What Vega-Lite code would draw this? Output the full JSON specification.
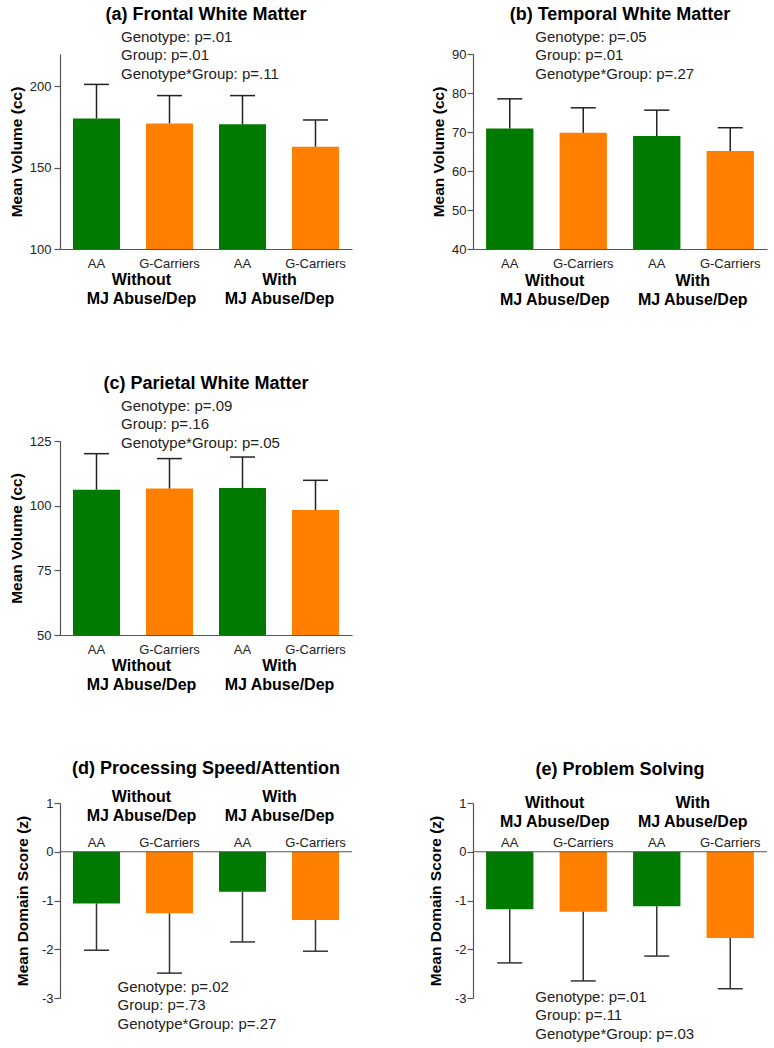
{
  "$schema": "https://vega.github.io/schema/vega-lite/v6.json",
  "padding": {"left": 9, "top": 5, "right": 0, "bottom": 0},
  "config": {
    "view": {"stroke": null},
    "font": "Liberation Sans",
    "title": {"fontSize": 18, "fontWeight": "bold", "color": "#000", "frame": "group", "anchor": "middle", "font": "Liberation Sans"},
    "axis": {"labelFont": "Liberation Sans", "titleFont": "Liberation Sans", "labelFontSize": 13, "labelColor": "#222", "titleFontSize": 15.5, "titleFontWeight": "bold", "titleColor": "#000", "domainColor": "#555", "tickColor": "#555", "grid": false, "domainWidth": 1.2, "tickWidth": 1.2},
    "axisY": {"tickSize": 6, "labelPadding": 3, "labelOverlap": false, "tickCount": 10},
    "axisX": {"ticks": false, "labelPadding": 8, "labelAngle": 0},
    "text": {"font": "Liberation Sans"}
  },
  "datasets": {
    "bars": [
      {"panel": "a", "cond": "Without AA", "geno": "AA", "mean": 180.3, "errEnd": 201.3},
      {"panel": "a", "cond": "Without G-Carriers", "geno": "G-Carriers", "mean": 177.3, "errEnd": 194.4},
      {"panel": "a", "cond": "With AA", "geno": "AA", "mean": 176.7, "errEnd": 194.4},
      {"panel": "a", "cond": "With G-Carriers", "geno": "G-Carriers", "mean": 163.0, "errEnd": 179.4},
      {"panel": "b", "cond": "Without AA", "geno": "AA", "mean": 70.9, "errEnd": 78.5},
      {"panel": "b", "cond": "Without G-Carriers", "geno": "G-Carriers", "mean": 69.8, "errEnd": 76.2},
      {"panel": "b", "cond": "With AA", "geno": "AA", "mean": 69.0, "errEnd": 75.6},
      {"panel": "b", "cond": "With G-Carriers", "geno": "G-Carriers", "mean": 65.1, "errEnd": 71.1},
      {"panel": "c", "cond": "Without AA", "geno": "AA", "mean": 106.2, "errEnd": 120.1},
      {"panel": "c", "cond": "Without G-Carriers", "geno": "G-Carriers", "mean": 106.6, "errEnd": 118.2},
      {"panel": "c", "cond": "With AA", "geno": "AA", "mean": 106.8, "errEnd": 118.8},
      {"panel": "c", "cond": "With G-Carriers", "geno": "G-Carriers", "mean": 98.3, "errEnd": 109.8},
      {"panel": "d", "cond": "Without AA", "geno": "AA", "mean": -1.06, "errEnd": -2.02},
      {"panel": "d", "cond": "Without G-Carriers", "geno": "G-Carriers", "mean": -1.26, "errEnd": -2.49},
      {"panel": "d", "cond": "With AA", "geno": "AA", "mean": -0.82, "errEnd": -1.85},
      {"panel": "d", "cond": "With G-Carriers", "geno": "G-Carriers", "mean": -1.40, "errEnd": -2.04},
      {"panel": "e", "cond": "Without AA", "geno": "AA", "mean": -1.18, "errEnd": -2.28},
      {"panel": "e", "cond": "Without G-Carriers", "geno": "G-Carriers", "mean": -1.23, "errEnd": -2.65},
      {"panel": "e", "cond": "With AA", "geno": "AA", "mean": -1.12, "errEnd": -2.14},
      {"panel": "e", "cond": "With G-Carriers", "geno": "G-Carriers", "mean": -1.77, "errEnd": -2.81}
    ],
    "notes": [
      {"panel": "a", "txt": "Genotype: p=.01\nGroup: p=.01\nGenotype*Group: p=.11"},
      {"panel": "b", "txt": "Genotype: p=.05\nGroup: p=.01\nGenotype*Group: p=.27"},
      {"panel": "c", "txt": "Genotype: p=.09\nGroup: p=.16\nGenotype*Group: p=.05"},
      {"panel": "d", "txt": "Genotype: p=.02\nGroup: p=.73\nGenotype*Group: p=.27"},
      {"panel": "e", "txt": "Genotype: p=.01\nGroup: p=.11\nGenotype*Group: p=.03"}
    ],
    "groups": [
      {"panel": "a", "grp": "Without", "label": "Without\nMJ Abuse/Dep"},
      {"panel": "a", "grp": "With", "label": "With\nMJ Abuse/Dep"},
      {"panel": "b", "grp": "Without", "label": "Without\nMJ Abuse/Dep"},
      {"panel": "b", "grp": "With", "label": "With\nMJ Abuse/Dep"},
      {"panel": "c", "grp": "Without", "label": "Without\nMJ Abuse/Dep"},
      {"panel": "c", "grp": "With", "label": "With\nMJ Abuse/Dep"},
      {"panel": "d", "grp": "Without", "label": "Without\nMJ Abuse/Dep"},
      {"panel": "d", "grp": "With", "label": "With\nMJ Abuse/Dep"},
      {"panel": "e", "grp": "Without", "label": "Without\nMJ Abuse/Dep"},
      {"panel": "e", "grp": "With", "label": "With\nMJ Abuse/Dep"}
    ],
    "zero": [{"zero": 0}]
  },
  "spacing": 66,
  "vconcat": [
    {
      "bounds": "flush",
      "spacing": 121,
      "hconcat": [
        {
          "width": 292, "height": 195,
          "title": {"text": "(a) Frontal White Matter", "offset": 6},
          "layer": [
            {"data": {"name": "bars"}, "transform": [{"filter": "datum.panel === 'a'"}],
             "mark": {"type": "bar"},
             "encoding": {
               "x": {"field": "cond", "type": "nominal", "scale": {"domain": ["Without AA", "Without G-Carriers", "With AA", "With G-Carriers"], "paddingInner": 0.356, "paddingOuter": 0.178}, "axis": {"title": null, "labelExpr": "split(datum.value, ' ')[1]"}},
               "y": {"field": "mean", "type": "quantitative", "scale": {"domain": [100, 220], "nice": false}, "axis": {"values": [100, 150, 200], "title": "Mean Volume (cc)", "titlePadding": 5.3}},
               "y2": {"datum": 100},
               "color": {"field": "geno", "type": "nominal", "scale": {"domain": ["AA", "G-Carriers"], "range": ["#007A00", "#FF8000"]}, "legend": null}}},
            {"data": {"name": "bars"}, "transform": [{"filter": "datum.panel === 'a'"}],
             "mark": {"type": "rule", "color": "#222", "strokeWidth": 1.5},
             "encoding": {"x": {"field": "cond", "type": "nominal"}, "y": {"field": "mean", "type": "quantitative"}, "y2": {"field": "errEnd"}}},
            {"data": {"name": "bars"}, "transform": [{"filter": "datum.panel === 'a'"}],
             "mark": {"type": "tick", "orient": "horizontal", "size": 25, "thickness": 1.5, "color": "#222", "opacity": 1},
             "encoding": {"x": {"field": "cond", "type": "nominal"}, "y": {"field": "errEnd", "type": "quantitative"}}},
            {"data": {"name": "notes"}, "transform": [{"filter": "datum.panel === 'a'"}],
             "mark": {"type": "text", "align": "left", "baseline": "middle", "lineBreak": "\n", "lineHeight": 18.5, "fontSize": 15, "color": "#222", "dx": 24.5, "dy": -17.5},
             "encoding": {"x": {"datum": "Without AA", "type": "nominal"}, "y": {"datum": 220, "type": "quantitative"}, "text": {"field": "txt"}}},
            {"data": {"name": "groups"}, "transform": [{"filter": "datum.panel === 'a' && datum.grp === 'Without'"}],
             "mark": {"type": "text", "align": "center", "baseline": "middle", "lineBreak": "\n", "lineHeight": 19, "fontSize": 16, "fontWeight": "bold", "color": "#000", "dx": 45, "dy": 31},
             "encoding": {"x": {"datum": "Without AA", "type": "nominal"}, "y": {"datum": 100, "type": "quantitative"}, "text": {"field": "label"}}},
            {"data": {"name": "groups"}, "transform": [{"filter": "datum.panel === 'a' && datum.grp === 'With'"}],
             "mark": {"type": "text", "align": "center", "baseline": "middle", "lineBreak": "\n", "lineHeight": 19, "fontSize": 16, "fontWeight": "bold", "color": "#000", "dx": 37, "dy": 31},
             "encoding": {"x": {"datum": "With AA", "type": "nominal"}, "y": {"datum": 100, "type": "quantitative"}, "text": {"field": "label"}}}
          ]
        },
        {
          "width": 294, "height": 195,
          "title": {"text": "(b) Temporal White Matter", "offset": 6},
          "layer": [
            {"data": {"name": "bars"}, "transform": [{"filter": "datum.panel === 'b'"}],
             "mark": {"type": "bar"},
             "encoding": {
               "x": {"field": "cond", "type": "nominal", "scale": {"domain": ["Without AA", "Without G-Carriers", "With AA", "With G-Carriers"], "paddingInner": 0.356, "paddingOuter": 0.178}, "axis": {"title": null, "labelExpr": "split(datum.value, ' ')[1]"}},
               "y": {"field": "mean", "type": "quantitative", "scale": {"domain": [40, 90], "nice": false}, "axis": {"values": [40, 50, 60, 70, 80, 90], "tickCount": 10, "title": "Mean Volume (cc)", "titlePadding": 5.5, "labelPadding": 1, "labelOverlap": false}},
               "y2": {"datum": 40},
               "color": {"field": "geno", "type": "nominal", "scale": {"domain": ["AA", "G-Carriers"], "range": ["#007A00", "#FF8000"]}, "legend": null}}},
            {"data": {"name": "bars"}, "transform": [{"filter": "datum.panel === 'b'"}],
             "mark": {"type": "rule", "color": "#222", "strokeWidth": 1.5},
             "encoding": {"x": {"field": "cond", "type": "nominal"}, "y": {"field": "mean", "type": "quantitative"}, "y2": {"field": "errEnd"}}},
            {"data": {"name": "bars"}, "transform": [{"filter": "datum.panel === 'b'"}],
             "mark": {"type": "tick", "orient": "horizontal", "size": 25, "thickness": 1.5, "color": "#222", "opacity": 1},
             "encoding": {"x": {"field": "cond", "type": "nominal"}, "y": {"field": "errEnd", "type": "quantitative"}}},
            {"data": {"name": "notes"}, "transform": [{"filter": "datum.panel === 'b'"}],
             "mark": {"type": "text", "align": "left", "baseline": "middle", "lineBreak": "\n", "lineHeight": 18.5, "fontSize": 15, "color": "#222", "dx": 25.6, "dy": -17.5},
             "encoding": {"x": {"datum": "Without AA", "type": "nominal"}, "y": {"datum": 90, "type": "quantitative"}, "text": {"field": "txt"}}},
            {"data": {"name": "groups"}, "transform": [{"filter": "datum.panel === 'b' && datum.grp === 'Without'"}],
             "mark": {"type": "text", "align": "center", "baseline": "middle", "lineBreak": "\n", "lineHeight": 19, "fontSize": 16, "fontWeight": "bold", "color": "#000", "dx": 45, "dy": 32},
             "encoding": {"x": {"datum": "Without AA", "type": "nominal"}, "y": {"datum": 40, "type": "quantitative"}, "text": {"field": "label"}}},
            {"data": {"name": "groups"}, "transform": [{"filter": "datum.panel === 'b' && datum.grp === 'With'"}],
             "mark": {"type": "text", "align": "center", "baseline": "middle", "lineBreak": "\n", "lineHeight": 19, "fontSize": 16, "fontWeight": "bold", "color": "#000", "dx": 36, "dy": 32},
             "encoding": {"x": {"datum": "With AA", "type": "nominal"}, "y": {"datum": 40, "type": "quantitative"}, "text": {"field": "label"}}}
          ]
        }
      ]
    },
    {
      "width": 292, "height": 194,
      "title": {"text": "(c) Parietal White Matter", "offset": 6},
      "layer": [
        {"data": {"name": "bars"}, "transform": [{"filter": "datum.panel === 'c'"}],
         "mark": {"type": "bar"},
         "encoding": {
           "x": {"field": "cond", "type": "nominal", "scale": {"domain": ["Without AA", "Without G-Carriers", "With AA", "With G-Carriers"], "paddingInner": 0.356, "paddingOuter": 0.178}, "axis": {"title": null, "labelExpr": "split(datum.value, ' ')[1]"}},
           "y": {"field": "mean", "type": "quantitative", "scale": {"domain": [50, 125], "nice": false}, "axis": {"values": [50, 75, 100, 125], "title": "Mean Volume (cc)", "titlePadding": 5.3}},
           "y2": {"datum": 50},
           "color": {"field": "geno", "type": "nominal", "scale": {"domain": ["AA", "G-Carriers"], "range": ["#007A00", "#FF8000"]}, "legend": null}}},
        {"data": {"name": "bars"}, "transform": [{"filter": "datum.panel === 'c'"}],
         "mark": {"type": "rule", "color": "#222", "strokeWidth": 1.5},
         "encoding": {"x": {"field": "cond", "type": "nominal"}, "y": {"field": "mean", "type": "quantitative"}, "y2": {"field": "errEnd"}}},
        {"data": {"name": "bars"}, "transform": [{"filter": "datum.panel === 'c'"}],
         "mark": {"type": "tick", "orient": "horizontal", "size": 25, "thickness": 1.5, "color": "#222", "opacity": 1},
         "encoding": {"x": {"field": "cond", "type": "nominal"}, "y": {"field": "errEnd", "type": "quantitative"}}},
        {"data": {"name": "notes"}, "transform": [{"filter": "datum.panel === 'c'"}],
         "mark": {"type": "text", "align": "left", "baseline": "middle", "lineBreak": "\n", "lineHeight": 18.5, "fontSize": 15, "color": "#222", "dx": 24.5, "dy": -35.5},
         "encoding": {"x": {"datum": "Without AA", "type": "nominal"}, "y": {"datum": 125, "type": "quantitative"}, "text": {"field": "txt"}}},
        {"data": {"name": "groups"}, "transform": [{"filter": "datum.panel === 'c' && datum.grp === 'Without'"}],
         "mark": {"type": "text", "align": "center", "baseline": "middle", "lineBreak": "\n", "lineHeight": 19, "fontSize": 16, "fontWeight": "bold", "color": "#000", "dx": 45, "dy": 31},
         "encoding": {"x": {"datum": "Without AA", "type": "nominal"}, "y": {"datum": 50, "type": "quantitative"}, "text": {"field": "label"}}},
        {"data": {"name": "groups"}, "transform": [{"filter": "datum.panel === 'c' && datum.grp === 'With'"}],
         "mark": {"type": "text", "align": "center", "baseline": "middle", "lineBreak": "\n", "lineHeight": 19, "fontSize": 16, "fontWeight": "bold", "color": "#000", "dx": 37, "dy": 31},
         "encoding": {"x": {"datum": "With AA", "type": "nominal"}, "y": {"datum": 50, "type": "quantitative"}, "text": {"field": "label"}}}
      ]
    },
    {
      "bounds": "flush",
      "spacing": 121,
      "hconcat": [
        {
          "width": 292, "height": 195,
          "title": {"text": "(d) Processing Speed/Attention", "offset": 11},
          "layer": [
            {"data": {"name": "bars"}, "transform": [{"filter": "datum.panel === 'd'"}],
             "mark": {"type": "bar"},
             "encoding": {
               "x": {"field": "cond", "type": "nominal", "scale": {"domain": ["Without AA", "Without G-Carriers", "With AA", "With G-Carriers"], "paddingInner": 0.356, "paddingOuter": 0.178}, "axis": null},
               "y": {"field": "mean", "type": "quantitative", "scale": {"domain": [-3, 1], "nice": false}, "axis": {"values": [-3, -2, -1, 0, 1], "labelExpr": "datum.value + ''", "title": "Mean Domain Score (z)", "titlePadding": 11, "labelPadding": 1}},
               "y2": {"datum": 0},
               "color": {"field": "geno", "type": "nominal", "scale": {"domain": ["AA", "G-Carriers"], "range": ["#007A00", "#FF8000"]}, "legend": null}}},
            {"data": {"name": "zero"},
             "mark": {"type": "rule", "color": "#555", "strokeWidth": 1.2},
             "encoding": {"y": {"field": "zero", "type": "quantitative"}}},
            {"data": {"name": "bars"}, "transform": [{"filter": "datum.panel === 'd'"}],
             "mark": {"type": "rule", "color": "#333", "strokeWidth": 1.5},
             "encoding": {"x": {"field": "cond", "type": "nominal"}, "y": {"field": "mean", "type": "quantitative"}, "y2": {"field": "errEnd"}}},
            {"data": {"name": "bars"}, "transform": [{"filter": "datum.panel === 'd'"}],
             "mark": {"type": "tick", "orient": "horizontal", "size": 25, "thickness": 1.5, "color": "#333", "opacity": 1},
             "encoding": {"x": {"field": "cond", "type": "nominal"}, "y": {"field": "errEnd", "type": "quantitative"}}},
            {"data": {"name": "bars"}, "transform": [{"filter": "datum.panel === 'd'"}],
             "mark": {"type": "text", "align": "center", "baseline": "alphabetic", "fontSize": 13, "color": "#222", "dy": -5},
             "encoding": {"x": {"field": "cond", "type": "nominal"}, "y": {"datum": 0, "type": "quantitative"}, "text": {"field": "geno"}}},
            {"data": {"name": "notes"}, "transform": [{"filter": "datum.panel === 'd'"}],
             "mark": {"type": "text", "align": "left", "baseline": "middle", "lineBreak": "\n", "lineHeight": 18.5, "fontSize": 15, "color": "#222", "dx": 21, "dy": -11.5},
             "encoding": {"x": {"datum": "Without AA", "type": "nominal"}, "y": {"datum": -3, "type": "quantitative"}, "text": {"field": "txt"}}},
            {"data": {"name": "groups"}, "transform": [{"filter": "datum.panel === 'd' && datum.grp === 'Without'"}],
             "mark": {"type": "text", "align": "center", "baseline": "middle", "lineBreak": "\n", "lineHeight": 19, "fontSize": 16, "fontWeight": "bold", "color": "#000", "dx": 45, "dy": -55.2},
             "encoding": {"x": {"datum": "Without AA", "type": "nominal"}, "y": {"datum": 0, "type": "quantitative"}, "text": {"field": "label"}}},
            {"data": {"name": "groups"}, "transform": [{"filter": "datum.panel === 'd' && datum.grp === 'With'"}],
             "mark": {"type": "text", "align": "center", "baseline": "middle", "lineBreak": "\n", "lineHeight": 19, "fontSize": 16, "fontWeight": "bold", "color": "#000", "dx": 37, "dy": -55.2},
             "encoding": {"x": {"datum": "With AA", "type": "nominal"}, "y": {"datum": 0, "type": "quantitative"}, "text": {"field": "label"}}}
          ]
        },
        {
          "width": 294, "height": 195,
          "title": {"text": "(e) Problem Solving", "offset": 16},
          "layer": [
            {"data": {"name": "bars"}, "transform": [{"filter": "datum.panel === 'e'"}],
             "mark": {"type": "bar"},
             "encoding": {
               "x": {"field": "cond", "type": "nominal", "scale": {"domain": ["Without AA", "Without G-Carriers", "With AA", "With G-Carriers"], "paddingInner": 0.356, "paddingOuter": 0.178}, "axis": null},
               "y": {"field": "mean", "type": "quantitative", "scale": {"domain": [-3, 1], "nice": false}, "axis": {"values": [-3, -2, -1, 0, 1], "labelExpr": "datum.value + ''", "title": "Mean Domain Score (z)", "titlePadding": 11, "labelPadding": 1}},
               "y2": {"datum": 0},
               "color": {"field": "geno", "type": "nominal", "scale": {"domain": ["AA", "G-Carriers"], "range": ["#007A00", "#FF8000"]}, "legend": null}}},
            {"data": {"name": "zero"},
             "mark": {"type": "rule", "color": "#555", "strokeWidth": 1.2},
             "encoding": {"y": {"field": "zero", "type": "quantitative"}}},
            {"data": {"name": "bars"}, "transform": [{"filter": "datum.panel === 'e'"}],
             "mark": {"type": "rule", "color": "#333", "strokeWidth": 1.5},
             "encoding": {"x": {"field": "cond", "type": "nominal"}, "y": {"field": "mean", "type": "quantitative"}, "y2": {"field": "errEnd"}}},
            {"data": {"name": "bars"}, "transform": [{"filter": "datum.panel === 'e'"}],
             "mark": {"type": "tick", "orient": "horizontal", "size": 25, "thickness": 1.5, "color": "#333", "opacity": 1},
             "encoding": {"x": {"field": "cond", "type": "nominal"}, "y": {"field": "errEnd", "type": "quantitative"}}},
            {"data": {"name": "bars"}, "transform": [{"filter": "datum.panel === 'e'"}],
             "mark": {"type": "text", "align": "center", "baseline": "alphabetic", "fontSize": 13, "color": "#222", "dy": -5},
             "encoding": {"x": {"field": "cond", "type": "nominal"}, "y": {"datum": 0, "type": "quantitative"}, "text": {"field": "geno"}}},
            {"data": {"name": "notes"}, "transform": [{"filter": "datum.panel === 'e'"}],
             "mark": {"type": "text", "align": "left", "baseline": "middle", "lineBreak": "\n", "lineHeight": 18.5, "fontSize": 15, "color": "#222", "dx": 25.6, "dy": -1.5},
             "encoding": {"x": {"datum": "Without AA", "type": "nominal"}, "y": {"datum": -3, "type": "quantitative"}, "text": {"field": "txt"}}},
            {"data": {"name": "groups"}, "transform": [{"filter": "datum.panel === 'e' && datum.grp === 'Without'"}],
             "mark": {"type": "text", "align": "center", "baseline": "middle", "lineBreak": "\n", "lineHeight": 19, "fontSize": 16, "fontWeight": "bold", "color": "#000", "dx": 45, "dy": -49},
             "encoding": {"x": {"datum": "Without AA", "type": "nominal"}, "y": {"datum": 0, "type": "quantitative"}, "text": {"field": "label"}}},
            {"data": {"name": "groups"}, "transform": [{"filter": "datum.panel === 'e' && datum.grp === 'With'"}],
             "mark": {"type": "text", "align": "center", "baseline": "middle", "lineBreak": "\n", "lineHeight": 19, "fontSize": 16, "fontWeight": "bold", "color": "#000", "dx": 36, "dy": -49},
             "encoding": {"x": {"datum": "With AA", "type": "nominal"}, "y": {"datum": 0, "type": "quantitative"}, "text": {"field": "label"}}}
          ]
        }
      ]
    }
  ]
}
